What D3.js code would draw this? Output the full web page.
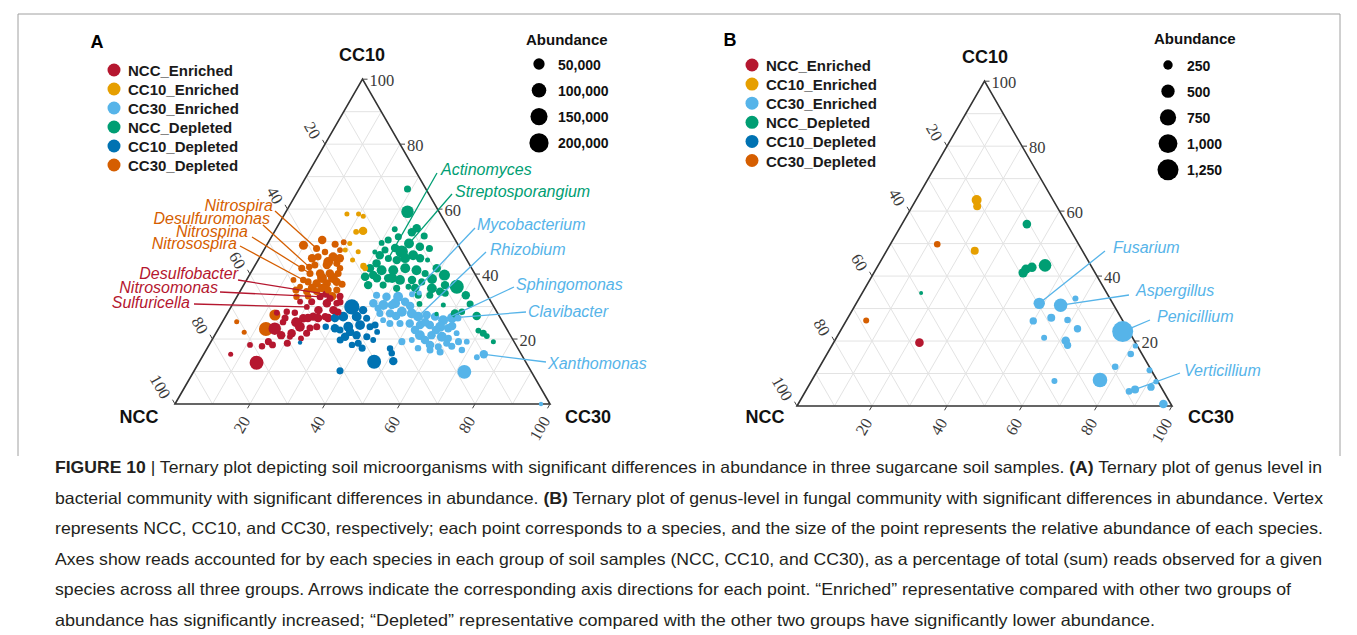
<!DOCTYPE html>
<html>
<head>
<meta charset="utf-8">
<script src="https://cdn.jsdelivr.net/npm/d3@7"></script>
<style>
  body { margin: 0; background: #fff; }
  svg { display: block; }
</style>
</head>
<body>
<svg id="fig" width="1357" height="635"></svg>
<script>
// ---------- categories and styling keys ----------
const groups = ["NCC_Enriched", "CC10_Enriched", "CC30_Enriched", "NCC_Depleted", "CC10_Depleted", "CC30_Depleted"];
const groupColors = ["#B5172F", "#E69F00", "#56B4E9", "#009E73", "#0072B2", "#D55E00"];
const vertexNames = ["NCC", "CC10", "CC30"];
const axisTicks = [20, 40, 60, 80, 100];
const gridSteps = [10, 20, 30, 40, 50, 60, 70, 80, 90];

// ---------- panel A: bacterial genera, [NCC %, CC10 %, CC30 %, abundance] ----------
const bacNccEnriched = [
  [71.9,12.7,15.4,88900],[77.5,15.3,7.2,2100],[70.9,18.2,10.9,4700],[65.5,19.2,15.3,10650],
  [64.9,18.2,16.9,10000],[60.7,18.7,20.6,10650],[61.8,23.2,15.0,66600],[58.0,21.8,20.2,20500],
  [54.8,23.8,21.4,33700],[52.6,26.4,21.0,20500],[56.0,28.4,15.6,7400],[54.0,28.1,17.9,7400],
  [49.9,29.9,20.2,4700],[49.7,26.9,23.4,20500],[47.3,28.9,23.8,20500],[50.3,23.8,25.9,10650],
  [44.0,31.0,25.0,20500],[43.3,28.9,27.8,20500],[46.5,26.9,26.6,10650],[42.4,32.5,25.1,10650],
  [41.4,31.0,27.6,7400],[44.8,33.0,22.2,10650],[47.8,31.5,20.7,10650],[58.8,28.1,13.1,4700],
  [50.9,31.5,17.6,4700],[59.0,20.7,20.3,4700],[54.0,21.8,24.2,10650],[56.3,20.2,23.5,4700],
  [55.1,25.2,19.7,33700],[39.4,33.2,27.4,10650],[58.6,25.2,16.2,7400],[42.9,33.8,23.3,10650],
  [48.6,26.5,24.9,20500],[45.9,26.5,27.6,20500],[51.3,26.5,22.2,20500],[42.4,28.3,29.3,10650],
  [40.3,31.4,28.3,10650],[52.3,23.4,24.3,10650],[57.4,26.5,16.1,10650],[67.9,17.8,14.3,7400],
  [61.1,21.2,17.7,20500]
];
const bacCc10Enriched = [
  [24.9,58.5,16.6,2100],[21.8,58.5,19.7,2100],[20.9,57.8,21.3,2100],[23.2,53.3,23.5,20500],
  [25.2,53.0,21.8,4700],[28.7,49.4,21.9,2100],[30.9,47.4,21.7,2100],[27.7,46.9,25.4,2100],
  [30.5,44.3,25.2,2100],[28.5,42.5,29.0,7400],[28.4,41.8,29.8,4700]
];
const bacCc30Enriched = [
  [17.8,34.2,48.0,2100],[29.5,33.5,37.0,10650],[27.1,33.0,39.9,20500],[24.0,33.0,43.0,33700],
  [31.6,31.0,37.4,20500],[29.2,30.5,40.3,33700],[25.8,31.0,43.2,33700],[22.9,31.5,45.6,20500],
  [31.4,27.9,40.7,10650],[28.7,27.9,43.4,20500],[25.3,28.4,46.3,33700],[22.9,27.9,49.2,33700],
  [21.7,26.9,51.4,33700],[19.2,27.4,53.4,20500],[17.2,26.9,55.9,20500],[15.6,25.8,58.6,33700],
  [25.0,24.8,50.2,20500],[22.5,24.3,53.2,20500],[19.9,24.3,55.8,20500],[17.4,23.8,58.8,33700],
  [15.5,23.3,61.2,20500],[30.3,24.8,44.9,10650],[27.6,24.8,47.6,10650],[31.6,25.8,42.6,4700],
  [24.1,21.2,54.7,33700],[21.0,21.2,57.8,20500],[18.5,20.7,60.8,33700],[17.0,20.2,62.8,10650],
  [29.9,19.2,50.9,10650],[27.0,19.7,53.3,4700],[22.9,18.2,58.9,20500],[21.0,17.6,61.4,10650],
  [18.2,18.7,63.1,10650],[14.0,21.8,64.2,4700],[14.8,19.2,66.0,10650],[12.6,19.2,68.2,4700],
  [23.7,16.6,59.7,10650],[12.3,14.4,73.3,4700],[10.0,15.3,74.7,20500],[17.9,9.9,72.2,88900],
  [2.4,0.0,97.6,800],[12.9,26.5,60.6,33700],[19.9,33.8,46.3,4700],
  [26.9,30.5,42.6,20500],[22.2,30.2,47.6,20500],[20.7,25.2,54.1,20500],[19.0,22.8,58.2,20500],
  [14.1,24.0,61.9,20500],[11.3,26.5,62.2,10650],[23.5,19.7,56.8,20500],[24.6,22.8,52.6,20500],
  [27.5,27.1,45.4,20500],[31.1,29.5,39.4,10650],[21.3,16.0,62.7,10650],[17.3,17.8,64.9,10650],
  [26.6,17.2,56.2,7400],[15.2,16.6,68.2,7400]
];
const bacNccDepleted = [
  [4.9,66.2,28.9,10650],[8.4,59.2,32.4,66600],[8.5,54.1,37.4,20500],[14.7,51.5,33.8,10650],
  [20.1,49.6,30.3,4700],[12.9,49.4,37.7,33700],[10.5,48.4,41.1,20500],[8.2,47.9,43.9,10650],
  [10.5,44.3,45.2,2100],[16.1,46.9,37.0,66600],[13.6,45.8,40.6,33700],[18.7,44.3,37.0,20500],
  [20.7,44.8,34.5,10650],[24.6,43.3,32.1,20500],[27.1,41.8,31.1,20500],[24.3,41.2,34.5,33700],
  [21.2,41.2,37.6,33700],[17.7,41.8,40.5,33700],[15.0,41.2,43.8,33700],[13.2,40.2,46.6,10650],
  [29.7,39.2,31.1,20500],[26.8,38.7,34.5,20500],[23.8,38.7,37.5,20500],[20.9,38.2,40.9,33700],
  [17.7,38.2,44.1,20500],[15.4,37.6,47.0,10650],[30.2,36.6,33.2,20500],[26.2,36.6,37.2,10650],
  [23.1,35.6,41.3,10650],[19.7,36.1,44.2,4700],[8.3,39.7,52.0,47500],[6.8,36.1,57.1,88900],
  [13.7,35.6,50.7,33700],[12.0,34.6,53.4,20500],[15.3,33.5,51.2,10650],[10.9,34.1,55.0,10650],
  [18.4,33.5,48.1,10650],[19.4,30.8,49.8,4700],[13.2,30.5,56.3,2100],[16.4,27.7,55.9,800],
  [11.4,27.9,60.7,20500],[9.3,28.4,62.3,7400],[6.0,27.1,66.9,20500],[7.8,22.6,69.6,4700],
  [6.9,21.8,71.3,10650],[6.4,20.9,72.7,4700],[5.5,19.2,75.3,2100],[14.5,53.8,31.7,4700],
  [20.3,47.4,32.3,10650],[23.3,46.8,29.9,2100],
  [22.5,45.8,31.7,20500],[17.3,48.0,34.7,20500],[16.2,44.9,38.9,33700],[12.2,44.9,42.9,20500],
  [9.3,41.8,48.9,20500],[9.7,36.6,53.7,20500],[12.2,38.5,49.3,33700],[27.3,39.7,33.0,20500],
  [22.7,38.8,38.5,33700],[18.1,35.7,46.2,20500],[5.7,33.5,60.8,20500],[5.9,30.8,63.3,10650],
  [10.4,52.9,36.7,20500],[17.9,50.5,31.6,10650],[7.7,51.7,40.6,10650]
];
const bacCc10Depleted = [
  [37.9,29.9,32.2,110600],[41.7,26.9,31.4,33700],[38.1,26.9,35.0,33700],[35.7,26.4,37.9,10650],
  [41.9,23.8,34.3,33700],[38.5,24.3,37.2,33700],[36.1,23.8,40.1,10650],[44.6,22.8,32.6,10650],
  [44.3,20.7,35.0,20500],[41.0,21.2,37.8,20500],[38.5,20.7,40.8,10650],[41.8,18.7,39.5,10650],
  [37.3,19.7,43.0,4700],[34.1,17.1,48.8,7400],[34.4,15.6,50.0,7400],[35.2,13.2,51.6,20500],
  [40.4,13.0,46.6,88900],[50.9,10.2,38.9,10650],[57.2,18.9,23.9,800],[47.9,23.8,28.3,7400],
  [45.7,23.3,31.0,20500],[35.0,22.2,42.8,4700],
  [44.1,26.5,29.4,20500],[42.2,22.2,35.6,20500],[35.4,28.9,35.7,20500],[46.1,19.7,34.2,10650],
  [41.5,17.2,41.3,10650],[34.5,24.3,41.2,10650],[43.7,18.2,38.1,7400]
];
const bacCc30Depleted = [
  [61.8,28.4,13.4,47500],[64.2,23.1,12.7,88900],[70.9,25.3,3.8,2100],[70.5,22.1,7.4,2100],
  [41.3,48.9,9.8,25800],[38.3,47.9,13.8,10650],[32.7,49.2,18.1,10650],[35.2,45.3,19.5,25800],
  [39.2,45.3,15.5,10650],[41.3,42.8,15.9,10650],[38.1,42.8,19.1,20500],[35.2,43.3,21.5,10650],
  [43.9,40.2,15.9,10650],[41.2,40.2,18.6,20500],[38.6,40.2,21.2,20500],[36.4,40.2,23.4,10650],
  [45.7,37.6,16.7,10650],[43.7,37.1,19.2,20500],[41.0,37.1,21.9,20500],[38.1,37.6,24.3,20500],
  [48.6,36.1,15.3,4700],[47.6,34.6,17.8,10650],[44.9,34.6,20.5,10650],[41.6,35.1,23.3,10650],
  [39.3,35.1,25.6,10650],[51.1,33.0,15.9,7400],[49.3,38.2,12.5,4700],[32.3,47.4,20.3,4700],
  [35.1,41.8,23.1,7400],[36.6,46.8,16.6,7400],[43.1,42.2,14.7,7400],[46.7,38.2,15.1,7400],
  [35.5,50.5,14.0,20500],[37.3,43.7,19.0,33700],[41.0,44.9,14.1,20500],[33.6,44.9,21.5,20500],
  [41.4,38.8,19.8,33700],[38.5,38.8,22.7,33700],[45.6,35.7,18.7,20500],[42.9,35.7,21.4,20500],
  [41.5,33.2,25.3,20500],[37.0,36.9,26.1,10650],[45.3,41.8,12.9,10650],[50.2,35.1,14.7,10650],
  [30.1,49.8,20.1,4700],[47.9,33.2,18.9,7400]
];

// ---------- panel B: fungal genera, [NCC %, CC10 %, CC30 %, abundance] ----------
const funNccEnriched = [[57.6,19.5,22.9,210]];
const funCc10Enriched = [[20.4,63.4,16.2,280],[21.2,61.5,17.3,181],[28.7,47.8,23.5,180]];
const funCc30Enriched = [
  [19.6,31.6,48.8,368],[14.2,31.0,54.8,509],[9.2,33.1,57.7,102],[23.9,26.2,49.9,155],
  [18.6,27.2,54.2,181],[14.6,26.5,58.9,123],[13.3,23.8,62.9,155],[23.6,21.0,55.4,102],
  [18.3,20.1,61.6,210],[18.5,18.7,62.8,155],[1.7,22.9,75.4,1250],[0.5,18.5,81.0,83],
  [3.0,16.0,81.0,123],[9.1,12.1,78.8,123],[15.2,8.0,76.8,604],[27.5,7.7,64.8,102],
  [0.5,11.0,88.5,102],[0.5,7.5,92.0,83],[2.7,5.8,91.5,155],[7.3,5.1,87.6,181],
  [9.2,4.5,86.3,123],[2.0,0.6,97.4,210]
];
const funNccDepleted = [
  [10.7,56.0,33.3,210],[19.2,41.0,39.8,250],[17.9,42.1,40.0,250],[16.0,42.7,41.3,250],
  [12.2,43.3,44.5,450],[49.5,34.8,15.7,45]
];
const funCc10Depleted = [];
const funCc30Depleted = [[37.7,49.8,12.5,123],[68.4,26.3,5.3,102]];

// ---------- size legends ----------
const bacSizeBreaks = [50000, 100000, 150000, 200000];
const funSizeBreaks = [250, 500, 750, 1000, 1250];

// ---------- annotated genera: [name, group index, point index] ----------
const bacGenera = [
  ["Actinomyces", 3, 12], ["Streptosporangium", 3, 5], ["Mycobacterium", 2, 42], ["Rhizobium", 2, 12],
  ["Sphingomonas", 2, 15], ["Clavibacter", 2, 41], ["Xanthomonas", 2, 38],
  ["Nitrospira", 5, 5], ["Desulfuromonas", 5, 30], ["Nitrospina", 5, 12], ["Nitrosospira", 5, 31],
  ["Desulfobacter", 0, 31], ["Nitrosomonas", 0, 21], ["Sulfuricella", 0, 12]
];
const funGenera = [["Fusarium", 2, 0], ["Aspergillus", 2, 1], ["Penicillium", 2, 10], ["Verticillium", 2, 19]];

// label placement: [text x, text y, leader start x, leader start y, anchor]
const bacGeneraPos = [
  [441,169,437,173,"start"], [455,191,452,194,"start"], [477,224,475,228,"start"], [490,249,486,252,"start"],
  [516,284,514,287,"start"], [528,311,526,312,"start"], [548,363,546,362,"start"],
  [273,205,275,211,"end"], [270,218,263,225,"end"], [248,231,252,237,"end"], [237,243,240,246,"end"],
  [238,273,238,280,"end"], [218,287,220,292,"end"], [190,302,194,304,"end"]
];
const funGeneraPos = [
  [1113,247,1105,251,"start"], [1136,290,1129,295,"start"], [1157,316,1150,320,"start"], [1184,370,1180,373,"start"]
];

// ---------- caption ----------
const captionLines = [
  [["FIGURE 10", 1], [" | Ternary plot depicting soil microorganisms with significant differences in abundance in three sugarcane soil samples. ", 0], ["(A)", 1], [" Ternary plot of genus level in", 0]],
  [["bacterial community with significant differences in abundance. ", 0], ["(B)", 1], [" Ternary plot of genus-level in fungal community with significant differences in abundance. Vertex", 0]],
  [["represents NCC, CC10, and CC30, respectively; each point corresponds to a species, and the size of the point represents the relative abundance of each species.", 0]],
  [["Axes show reads accounted for by each species in each group of soil samples (NCC, CC10, and CC30), as a percentage of total (sum) reads observed for a given", 0]],
  [["species across all three groups. Arrows indicate the corresponding axis directions for each point. \u201CEnriched\u201D representative compared with other two groups of", 0]],
  [["abundance has significantly increased; \u201CDepleted\u201D representative compared with the other two groups have significantly lower abundance.", 0]]
];
const captionWidths = [1267, 1268, 1268, 1267, 1236, 1100];

// ---------- drawing ----------
const SANS = "'Liberation Sans', Arial, Helvetica, sans-serif";
const SERIF = "'Liberation Serif', 'DejaVu Serif', serif";
const svg = d3.select("#fig");

// outer figure frame
svg.append("path")
  .attr("d", "M18,456 L18,14 L1340,14 L1340,456")
  .attr("fill", "none").attr("stroke", "#a0a0a0").attr("stroke-width", 1);

const layoutA = {
  left: 175, right: 550, bottom: 404, top: 79.2, letter: "A", letterPos: [97, 42],
  legend: { x: 114, y: 70, dy: 19, tx: 128 },
  sizeLegend: { tx: 526, ty: 39, x: 539, y: 64, dy: 26.3, lx: 558 },
  vertexPos: [[139, 417], [362, 55], [588, 417]]
};
const layoutB = {
  left: 797, right: 1172, bottom: 406, top: 81.2, letter: "B", letterPos: [730, 40],
  legend: { x: 752, y: 65, dy: 19.1, tx: 766 },
  sizeLegend: { tx: 1154, ty: 38, x: 1168, y: 65, dy: 26.2, lx: 1187 },
  vertexPos: [[765, 417], [985, 57], [1211, 417]]
};

function drawPanel(layout, sets, size, sizeBreaks, genera, generaPos) {
  const g = svg.append("g");
  const x = d3.scaleLinear().domain([0, 100]).range([layout.left, layout.right]);
  const y = d3.scaleLinear().domain([0, 100]).range([layout.bottom, layout.top]);
  const color = d3.scaleOrdinal().domain(groups).range(groupColors);
  const proj = (ncc, cc10, cc30) => {
    const s = ncc + cc10 + cc30, t = 100 * cc10 / s, r = 100 * cc30 / s;
    return [x(r + t / 2), y(t)];
  };

  // grid lines every 10 % along the three composition directions
  const gridG = g.append("g").attr("stroke", "#e3e3e3").attr("stroke-width", 1);
  gridSteps.forEach(v => {
    [[[100 - v, v, 0], [0, v, 100 - v]],
     [[v, 100 - v, 0], [v, 0, 100 - v]],
     [[0, 100 - v, v], [100 - v, 0, v]]].forEach(([a, b]) => {
      const pa = proj(...a), pb = proj(...b);
      gridG.append("line").attr("x1", pa[0]).attr("y1", pa[1]).attr("x2", pb[0]).attr("y2", pb[1]);
    });
  });

  // triangle border
  const corners = [proj(100, 0, 0), proj(0, 100, 0), proj(0, 0, 100)];
  g.append("path").attr("d", d3.line()(corners) + "Z")
    .attr("fill", "none").attr("stroke", "#333").attr("stroke-width", 1.6).attr("stroke-linejoin", "miter");

  // axis ticks and labels
  const tickG = g.append("g").attr("stroke", "#444").attr("stroke-width", 1);
  const textG = g.append("g").attr("font-family", SERIF).attr("font-size", 16.5).attr("fill", "#3a3a3a");
  axisTicks.forEach(v => {
    // CC10 (right edge, horizontal lines)
    const pr = proj(0, v, 100 - v);
    tickG.append("line").attr("x1", pr[0]).attr("y1", pr[1]).attr("x2", pr[0] + 5).attr("y2", pr[1]);
    textG.append("text").attr("x", pr[0] + 7).attr("y", pr[1] + 1)
      .attr("dominant-baseline", "central").text(v);
    // NCC (left edge)
    const pl = proj(v, 100 - v, 0);
    tickG.append("line").attr("x1", pl[0]).attr("y1", pl[1]).attr("x2", pl[0] - 2.5).attr("y2", pl[1] - 4.3);
    textG.append("text").attr("text-anchor", "end").attr("dominant-baseline", "central")
      .attr("transform", `translate(${pl[0] - 8.5},${pl[1] - 6.5}) rotate(60)`).text(v);
    // CC30 (bottom edge)
    const pb = proj(100 - v, 0, v);
    tickG.append("line").attr("x1", pb[0]).attr("y1", pb[1]).attr("x2", pb[0] - 2.5).attr("y2", pb[1] + 4.3);
    textG.append("text").attr("text-anchor", "end").attr("dominant-baseline", "central")
      .attr("transform", `translate(${pb[0] - 4},${pb[1] + 13.5}) rotate(-60)`).text(v);
  });

  // vertex titles
  vertexNames.forEach((name, i) => {
    g.append("text").attr("x", layout.vertexPos[i][0]).attr("y", layout.vertexPos[i][1])
      .attr("text-anchor", "middle").attr("dominant-baseline", "central")
      .attr("font-family", SANS).attr("font-weight", "bold").attr("font-size", 18).attr("fill", "#111")
      .text(name);
  });

  // points
  const pts = [];
  sets.forEach((arr, gi) => arr.forEach((d, i) => {
    const p = proj(d[0], d[1], d[2]);
    pts.push({ group: groups[gi], gi, i, x: p[0], y: p[1], r: size(d[3]), ab: d[3] });
  }));
  const byKey = new Map(pts.map(p => [p.gi + ":" + p.i, p]));
  g.append("g").selectAll("circle")
    .data(pts.slice().sort((a, b) => b.ab - a.ab))
    .join("circle")
    .attr("cx", d => d.x).attr("cy", d => d.y).attr("r", d => d.r)
    .attr("fill", d => color(d.group));

  // leader lines and genus labels
  genera.forEach(([name, gi, pi], k) => {
    const p = byKey.get(gi + ":" + pi);
    const [tx, ty, lx, ly, anchor] = generaPos[k];
    const dx = p.x - lx, dy = p.y - ly, len = Math.hypot(dx, dy);
    const f = (len - p.r * 0.6) / len;
    g.append("line").attr("x1", lx).attr("y1", ly).attr("x2", lx + dx * f).attr("y2", ly + dy * f)
      .attr("stroke", groupColors[gi]).attr("stroke-width", 1.3);
    g.append("text").attr("x", tx).attr("y", ty).attr("text-anchor", anchor)
      .attr("dominant-baseline", "central")
      .attr("font-family", SANS).attr("font-style", "italic").attr("font-size", 16)
      .attr("fill", groupColors[gi]).text(name);
  });

  // panel letter
  g.append("text").attr("x", layout.letterPos[0]).attr("y", layout.letterPos[1])
    .attr("text-anchor", "middle").attr("dominant-baseline", "central")
    .attr("font-family", SANS).attr("font-weight", "bold").attr("font-size", 18).attr("fill", "#000")
    .text(layout.letter);

  // colour legend
  const lg = g.append("g");
  groups.forEach((name, i) => {
    const yy = layout.legend.y + i * layout.legend.dy;
    lg.append("circle").attr("cx", layout.legend.x).attr("cy", yy).attr("r", 6.5).attr("fill", groupColors[i]);
    lg.append("text").attr("x", layout.legend.tx).attr("y", yy + 0.5).attr("dominant-baseline", "central")
      .attr("font-family", SANS).attr("font-weight", "bold").attr("font-size", 15).attr("fill", "#1a1a1a")
      .text(name);
  });

  // size legend
  const sl = layout.sizeLegend;
  g.append("text").attr("x", sl.tx).attr("y", sl.ty).attr("dominant-baseline", "central")
    .attr("font-family", SANS).attr("font-weight", "bold").attr("font-size", 15).attr("fill", "#111")
    .text("Abundance");
  sizeBreaks.forEach((b, i) => {
    const yy = sl.y + i * sl.dy;
    g.append("circle").attr("cx", sl.x).attr("cy", yy).attr("r", size(b)).attr("fill", "#000");
    g.append("text").attr("x", sl.lx).attr("y", yy + 0.5).attr("dominant-baseline", "central")
      .attr("font-family", SANS).attr("font-weight", "bold").attr("font-size", 14).attr("fill", "#111")
      .text(d3.format(",")(b));
  });
}

drawPanel(layoutA,
  [bacNccEnriched, bacCc10Enriched, bacCc30Enriched, bacNccDepleted, bacCc10Depleted, bacCc30Depleted],
  d3.scaleSqrt().domain([0, 200000]).range([1.7, 9.6]),
  bacSizeBreaks, bacGenera, bacGeneraPos);

drawPanel(layoutB,
  [funNccEnriched, funCc10Enriched, funCc30Enriched, funNccDepleted, funCc10Depleted, funCc30Depleted],
  d3.scaleSqrt().domain([0, 1250]).range([0, 10.5]),
  funSizeBreaks, funGenera, funGeneraPos);

// caption
const cap = svg.append("g").attr("font-family", SANS).attr("font-size", 16.5).attr("fill", "#231F20");
captionLines.forEach((segs, i) => {
  const t = cap.append("text").attr("x", 55).attr("y", 467 + i * 30.6)
    .attr("dominant-baseline", "central")
    .attr("textLength", captionWidths[i]).attr("lengthAdjust", "spacingAndGlyphs");
  segs.forEach(([s, bold]) => {
    t.append("tspan").attr("font-weight", bold ? "bold" : "normal").text(s);
  });
});
</script>
</body>
</html>
